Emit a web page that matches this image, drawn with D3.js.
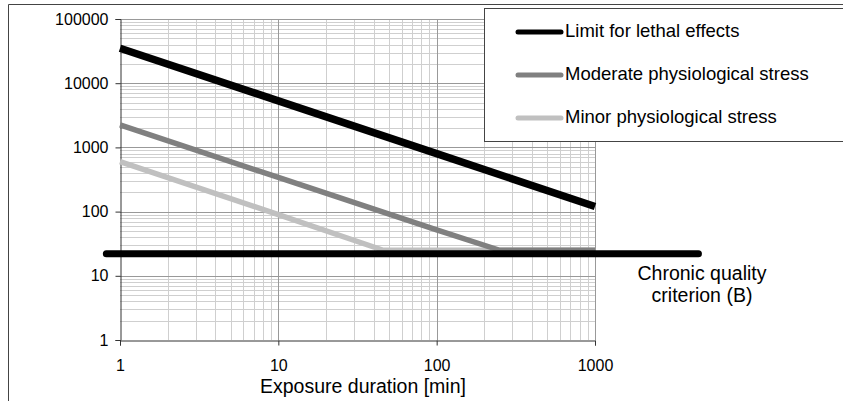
<!DOCTYPE html>
<html>
<head>
<meta charset="utf-8">
<script src="https://cdn.jsdelivr.net/npm/d3@7.9.0/dist/d3.min.js"></script>
<style>
  body { margin: 0; background: #fff; }
  svg { display: block; font-family: Arial, "Liberation Sans", sans-serif; }
</style>
</head>
<body>
<svg width="843" height="401"></svg>
<script>
// values (log-log)
const lethalX = [1, 10, 100, 1000];
const lethalY = [35000, 5300, 800, 120];
const moderateX = [1, 10, 100, 250, 1000];
const moderateY = [2250, 340, 52, 25, 25];
const minorX = [1, 10, 46, 1000];
const minorY = [600, 90, 25, 25];
const chronicX = [0.82, 4500];
const chronicY = 22;

const xTicks = [1, 10, 100, 1000];
const yTicks = [1, 10, 100, 1000, 10000, 100000];

const seriesNames = ["Limit for lethal effects", "Moderate physiological stress", "Minor physiological stress"];
const seriesColors = ["#000000", "#808080", "#c0c0c0"];
const seriesWidths = [7.5, 5.5, 5.5];

const svg = d3.select("svg");

const x = d3.scaleLog().domain([1, 1000]).range([120, 595]);
const y = d3.scaleLog().domain([1, 100000]).range([340, 19]);

// outer frame (cut off on the right and bottom)
svg.append("path")
  .attr("d", "M8.5,401 V4.5 H843")
  .attr("fill", "none")
  .attr("stroke", "#444")
  .attr("stroke-width", 1);

// minor grid
const minorXs = [];
for (let d = 1; d < 1000; d *= 10) for (let k = 2; k <= 9; k++) minorXs.push(d * k);
const minorYs = [];
for (let d = 1; d < 100000; d *= 10) for (let k = 2; k <= 9; k++) minorYs.push(d * k);

const grid = svg.append("g");
grid.selectAll(".vminor").data(minorXs).join("line")
  .attr("x1", d => Math.round(x(d)) + 0.5).attr("x2", d => Math.round(x(d)) + 0.5)
  .attr("y1", y(100000)).attr("y2", y(1))
  .attr("stroke", "#cfcfcf");
grid.selectAll(".hminor").data(minorYs).join("line")
  .attr("y1", d => Math.round(y(d)) + 0.5).attr("y2", d => Math.round(y(d)) + 0.5)
  .attr("x1", x(1)).attr("x2", x(1000))
  .attr("stroke", "#cfcfcf");
grid.selectAll(".vmajor").data(xTicks.slice(1)).join("line")
  .attr("x1", d => Math.round(x(d)) + 0.5).attr("x2", d => Math.round(x(d)) + 0.5)
  .attr("y1", y(100000)).attr("y2", y(1))
  .attr("stroke", "#999");
grid.selectAll(".hmajor").data(yTicks.slice(1)).join("line")
  .attr("y1", d => Math.round(y(d)) + 0.5).attr("y2", d => Math.round(y(d)) + 0.5)
  .attr("x1", x(1)).attr("x2", x(1000))
  .attr("stroke", "#999");

// axes
const xAxis = svg.append("g")
  .attr("transform", `translate(0,${Math.round(y(1)) + 0.5})`)
  .call(d3.axisBottom(x).tickValues(xTicks).tickFormat(d3.format("d")).tickSizeOuter(0).tickSize(5).tickPadding(14));
const yAxis = svg.append("g")
  .attr("transform", `translate(${Math.round(x(1)) + 0.5},0)`)
  .call(d3.axisLeft(y).tickValues(yTicks).tickFormat(d3.format("d")).tickSizeOuter(0).tickSize(5).tickPadding(7));
[xAxis, yAxis].forEach(a => {
  a.select(".domain").attr("stroke", "#333");
  a.selectAll(".tick line").attr("stroke", "#333");
  a.selectAll("text").attr("font-size", 16).attr("fill", "#000")
    .attr("font-family", "Arial, 'Liberation Sans', sans-serif");
});

// series lines
const line = d3.line().x(d => x(d[0])).y(d => y(d[1]));
const series = [
  d3.zip(lethalX, lethalY),
  d3.zip(moderateX, moderateY),
  d3.zip(minorX, minorY)
];
[2, 1, 0].forEach(i => {
  svg.append("path")
    .datum(series[i])
    .attr("d", line)
    .attr("fill", "none")
    .attr("stroke", seriesColors[i])
    .attr("stroke-width", seriesWidths[i])
    .attr("stroke-linejoin", "round");
});

// chronic quality criterion
svg.append("path")
  .datum(chronicX.map(v => [v, chronicY]))
  .attr("d", line)
  .attr("stroke", "#000")
  .attr("stroke-width", 7)
  .attr("stroke-linecap", "round");

const chronicText = svg.append("text")
  .attr("x", 702).attr("font-size", 19.5).attr("text-anchor", "middle");
chronicText.append("tspan").attr("x", 702).attr("y", 280).text("Chronic quality");
chronicText.append("tspan").attr("x", 702).attr("y", 302).text("criterion (B)");

// axis title
svg.append("text")
  .attr("x", 363).attr("y", 393)
  .attr("text-anchor", "middle")
  .attr("font-size", 19.5)
  .text("Exposure duration [min]");

// legend
const legend = svg.append("g");
legend.append("rect")
  .attr("x", 484.5).attr("y", 8.5).attr("width", 400).attr("height", 133)
  .attr("fill", "#fff").attr("stroke", "#444");
seriesNames.forEach((name, i) => {
  const cy = 32 + i * 43;
  legend.append("line")
    .attr("x1", 518).attr("x2", 561).attr("y1", cy).attr("y2", cy)
    .attr("stroke", seriesColors[i]).attr("stroke-width", 5)
    .attr("stroke-linecap", "round");
  legend.append("text")
    .attr("x", 565).attr("y", cy + 5)
    .attr("font-size", 18.5)
    .text(name);
});
</script>
</body>
</html>
